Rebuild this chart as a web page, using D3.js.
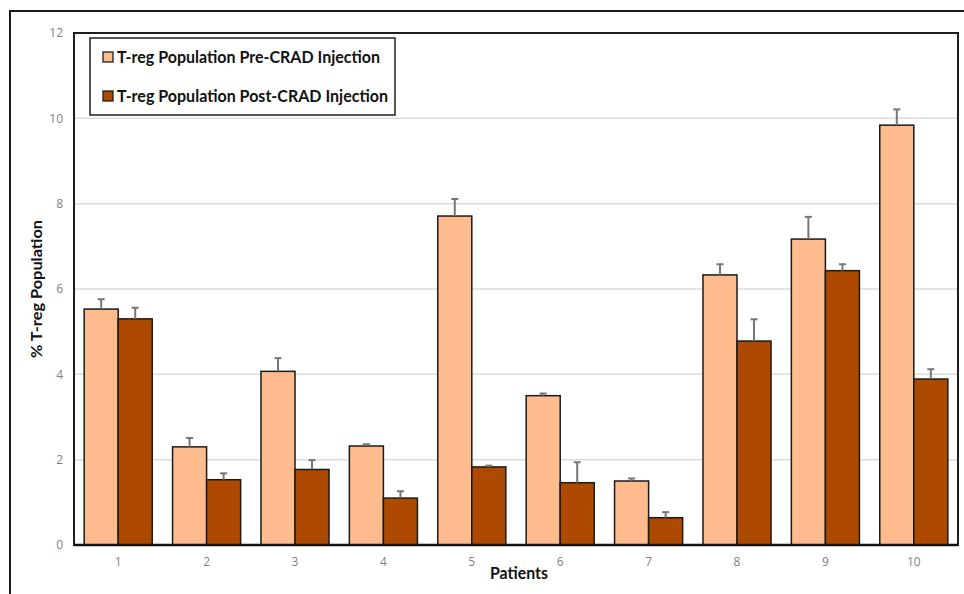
<!DOCTYPE html>
<html>
<head>
<meta charset="utf-8">
<script src="https://cdn.jsdelivr.net/npm/d3@7"></script>
<style>
  html, body { margin: 0; padding: 0; background: #fff; }
  svg { display: block; }
</style>
</head>
<body>
<svg id="chart" width="964" height="594"></svg>
<script>
const patients = ["1","2","3","4","5","6","7","8","9","10"];
const seriesNames = ["T-reg Population Pre-CRAD Injection", "T-reg Population Post-CRAD Injection"];
const preValues  = [5.53, 2.30, 4.07, 2.32, 7.71, 3.50, 1.50, 6.33, 7.17, 9.84];
const preErrors  = [0.23, 0.21, 0.31, 0.04, 0.40, 0.05, 0.06, 0.25, 0.52, 0.37];
const postValues = [5.30, 1.53, 1.77, 1.10, 1.83, 1.46, 0.64, 4.78, 6.43, 3.89];
const postErrors = [0.26, 0.15, 0.22, 0.16, 0.03, 0.48, 0.13, 0.51, 0.15, 0.23];
const yTicks = [0, 2, 4, 6, 8, 10, 12];
const xTitle = "Patients";
const yTitle = "% T-reg Population";

const colors = ["#FEBB8E", "#AE4900"];
const svg = d3.select("#chart");

const plot = { left: 74, right: 958, top: 33, bottom: 545 };

// outer frame
svg.append("rect").attr("x", 10).attr("y", 11).attr("width", 990).attr("height", 620)
  .attr("fill", "none").attr("stroke", "#1a1a1a").attr("stroke-width", 2);

const x0 = d3.scaleBand().domain(patients).range([plot.left, plot.right])
  .paddingInner(0.23).paddingOuter(0.115);
const x1 = d3.scaleBand().domain([0, 1]).range([0, x0.bandwidth()]).padding(0);
const y = d3.scaleLinear().domain([0, 12]).range([plot.bottom, plot.top]);

// gridlines
svg.append("g").selectAll("line").data(yTicks.filter(t => t > 0 && t < 12)).join("line")
  .attr("x1", plot.left).attr("x2", plot.right)
  .attr("y1", d => y(d)).attr("y2", d => y(d))
  .attr("stroke", "#dcdcdc").attr("stroke-width", 1.5);

// y tick labels
const yAxis = d3.axisLeft(y).tickValues(yTicks).tickSize(0).tickPadding(11);
const yg = svg.append("g").attr("transform", `translate(${plot.left},0)`).call(yAxis);
yg.select(".domain").remove();
yg.selectAll("text").attr("fill", "#7f7f7f").style("font-family", "'Open Sans', sans-serif").style("font-size", "12px");

// x tick labels
const xAxis = d3.axisBottom(x0).tickSize(0).tickPadding(12);
const xg = svg.append("g").attr("transform", `translate(0,${plot.bottom})`).call(xAxis);
xg.select(".domain").remove();
xg.selectAll("text").attr("fill", "#7f7f7f").style("font-family", "'Open Sans', sans-serif").style("font-size", "12px");

// bars
const rows = patients.map((p, i) => ({
  p,
  vals: [
    { s: 0, v: preValues[i], e: preErrors[i] },
    { s: 1, v: postValues[i], e: postErrors[i] }
  ]
}));

const groups = svg.append("g").selectAll("g").data(rows).join("g")
  .attr("transform", d => `translate(${x0(d.p)},0)`);

groups.selectAll("rect").data(d => d.vals).join("rect")
  .attr("x", d => x1(d.s))
  .attr("y", d => y(d.v))
  .attr("width", x1.bandwidth())
  .attr("height", d => y(0) - y(d.v))
  .attr("fill", d => colors[d.s])
  .attr("stroke", "#1a1a1a").attr("stroke-width", 1.5);

// error bars (upper only)
const eb = groups.selectAll("g.err").data(d => d.vals).join("g").attr("class", "err");
eb.append("line")
  .attr("x1", d => x1(d.s) + x1.bandwidth() / 2).attr("x2", d => x1(d.s) + x1.bandwidth() / 2)
  .attr("y1", d => y(d.v)).attr("y2", d => y(d.v + d.e))
  .attr("stroke", "#767676").attr("stroke-width", 2);
eb.append("line")
  .attr("x1", d => x1(d.s) + x1.bandwidth() / 2 - 3.5).attr("x2", d => x1(d.s) + x1.bandwidth() / 2 + 3.5)
  .attr("y1", d => y(d.v + d.e)).attr("y2", d => y(d.v + d.e))
  .attr("stroke", "#767676").attr("stroke-width", 2);

// plot border
svg.append("rect").attr("x", plot.left).attr("y", plot.top)
  .attr("width", plot.right - plot.left).attr("height", plot.bottom - plot.top)
  .attr("fill", "none").attr("stroke", "#1e1e1e").attr("stroke-width", 2);
svg.append("line").attr("x1", plot.left).attr("x2", plot.right)
  .attr("y1", plot.bottom).attr("y2", plot.bottom)
  .attr("stroke", "#111").attr("stroke-width", 2.5);

// legend
const lg = svg.append("g");
lg.append("rect").attr("x", 90).attr("y", 38).attr("width", 305).attr("height", 77)
  .attr("fill", "#fff").attr("stroke", "#1e1e1e").attr("stroke-width", 1.5);
const legendY = [57, 96];
seriesNames.forEach((name, i) => {
  lg.append("rect").attr("x", 103).attr("y", legendY[i] - 5).attr("width", 10).attr("height", 10)
    .attr("fill", colors[i]).attr("stroke", "#1e1e1e").attr("stroke-width", 1.3);
  lg.append("text").attr("x", 117).attr("y", legendY[i]).attr("dy", "0.35em")
    .attr("textLength", i === 0 ? 263 : 271).attr("lengthAdjust", "spacingAndGlyphs")
    .style("font-family", "Lato, sans-serif").style("font-weight", "bold").style("font-size", "17px")
    .attr("fill", "#111").text(name);
});

// axis titles
svg.append("text").attr("x", 519).attr("y", 573).attr("dy", "0.35em").attr("text-anchor", "middle")
  .attr("textLength", 58).attr("lengthAdjust", "spacingAndGlyphs")
  .style("font-family", "Lato, sans-serif").style("font-weight", "bold").style("font-size", "17px")
  .attr("fill", "#111").text(xTitle);
svg.append("text").attr("transform", "translate(36,289) rotate(-90)").attr("dy", "0.35em")
  .attr("text-anchor", "middle")
  .attr("textLength", 138).attr("lengthAdjust", "spacingAndGlyphs")
  .style("font-family", "Lato, sans-serif").style("font-weight", "bold").style("font-size", "16px")
  .attr("fill", "#111").text(yTitle);
</script>
</body>
</html>
